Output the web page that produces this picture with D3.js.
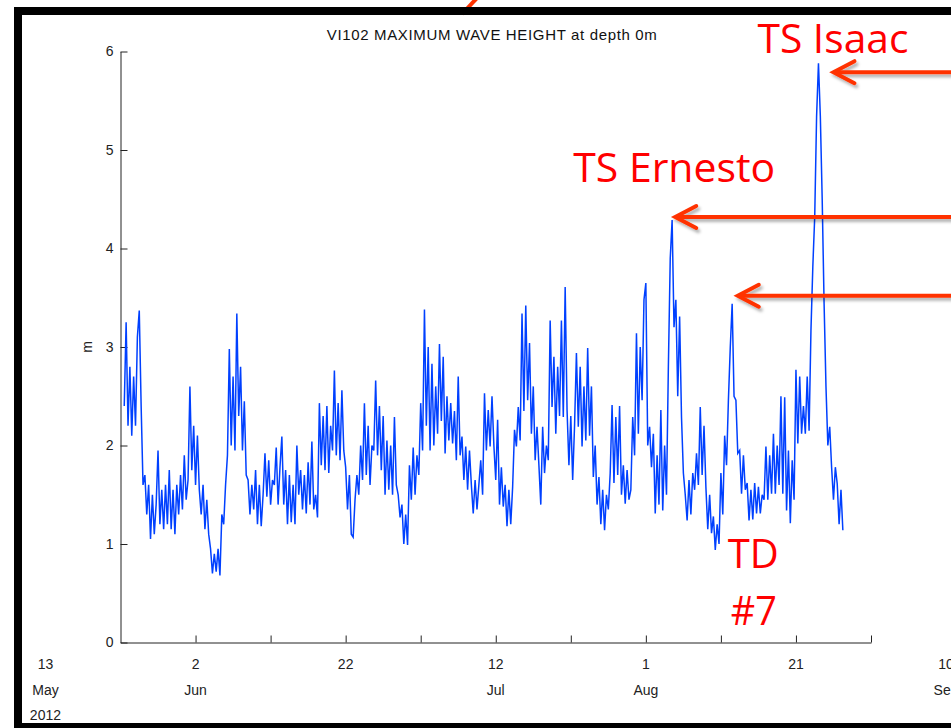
<!DOCTYPE html>
<html>
<head>
<meta charset="utf-8">
<script src="https://cdn.jsdelivr.net/npm/d3@7"></script>
<style>
  html, body { margin: 0; padding: 0; background: #fff; }
  svg { display: block; }
</style>
</head>
<body>
<div id="chart"></div>
<script>
// hourly buoy record, resampled every 6 h
const seriesStart = "2012-05-23 12:00";
const stepHours = 6;
const waveHeight = [
  2.4, 3.25,
  2.2, 2.8, 2.1, 2.7,   2.2, 3.1, 3.37, 2.4,   1.6, 1.7, 1.3, 1.6,   1.05, 1.5, 1.1, 1.4,
  1.95, 1.2, 1.55, 1.15,   1.6, 1.2, 1.75, 1.15,   1.55, 1.1, 1.6, 1.3,   1.7, 1.35, 1.9, 1.45,
  1.65, 2.6, 1.75, 2.2,   1.6, 2.1, 1.55, 1.3,   1.6, 1.15, 1.45, 1.1,   0.95, 0.7, 0.9, 0.72,
  0.95, 0.68, 1.3, 1.2,   1.6, 1.9, 2.98, 2.0,   2.7, 1.95, 3.34, 2.3,   2.8, 1.95, 2.45, 1.7,
  1.65, 1.3, 1.6, 1.35,   1.75, 1.2, 1.6, 1.18,   1.5, 1.92, 1.48, 1.85,   1.4, 1.65, 1.6, 1.98,
  1.4, 1.78, 2.09, 1.4,   1.75, 1.2, 1.7, 1.22,   1.6, 1.2, 2.0, 1.5,   1.75, 1.35, 1.7, 1.31,
  1.83, 1.4, 2.04, 1.35,   1.5, 1.27, 2.43, 1.8,   2.3, 1.75, 2.4, 1.72,   2.2, 1.95, 2.76, 1.9,
  2.43, 1.85, 2.56, 1.95,   1.78, 1.35, 1.7, 1.1,   1.07, 1.45, 1.7, 1.5,   2.0, 1.65, 2.43, 1.7,
  2.2, 1.6, 2.0, 1.95,   2.66, 1.9, 2.4, 1.75,   2.3, 1.5, 2.05, 1.55,   2.0, 1.5, 2.29, 1.6,
  1.5, 1.27, 1.4, 1.0,   1.3, 0.99, 1.8, 1.45,   1.98, 1.5, 1.9, 1.7,   2.43, 1.95, 3.38, 2.2,
  3.0, 1.95, 2.83, 2.0,   2.6, 2.12, 3.03, 2.25,   2.9, 1.92, 2.5, 2.05,   2.43, 2.02, 2.35, 1.85,
  2.7, 1.9, 2.09, 1.65,   1.99, 1.55, 1.95, 1.6,   1.31, 1.65, 1.35, 1.6,   1.85, 1.5, 2.53, 1.95,
  2.36, 1.99, 2.5, 2.0,   1.65, 2.26, 1.4, 1.78,   1.38, 1.6, 1.18, 1.55,   1.2, 1.58, 2.16, 1.99,
  2.39, 2.05, 3.34, 2.35,   3.42, 2.46, 3.04, 2.12,   2.6, 1.85, 2.19, 1.8,   1.4, 2.19, 1.72, 2.0,
  1.85, 3.27, 2.39, 2.9,   2.12, 2.8, 2.3, 3.27,   2.29, 3.61, 2.36, 1.8,   2.3, 1.65, 2.2, 2.94,
  2.19, 2.8, 1.99, 2.6,   2.05, 2.99, 2.1, 2.6,   1.68, 2.0, 1.4, 1.68,   1.2, 1.55, 1.14, 1.5,
  1.35, 1.72, 2.41, 1.62,   2.29, 1.7, 2.4, 1.5,   1.8, 1.41, 1.75, 1.45,   1.55, 2.29, 1.9, 3.14,
  2.12, 3.0, 2.46, 3.48,   3.65, 2.0, 2.19, 1.78,   2.12, 1.31, 1.9, 1.4,   2.36, 1.34, 2.0, 1.5,
  2.8, 3.9, 4.29, 3.2,   3.48, 2.5, 3.31, 2.29,   1.72, 1.5, 1.24, 1.65,   1.3, 1.72, 1.55, 1.92,
  1.6, 2.39, 1.7, 2.2,   1.58, 1.15, 1.5, 1.11,   1.28, 0.94, 1.2, 1.0,   1.72, 1.3, 2.1, 1.8,
  2.46, 3.0, 3.44, 2.5,   2.46, 1.92, 1.95, 1.51,   1.9, 1.55, 1.62, 1.24,   1.55, 1.25, 1.62, 1.31,
  1.58, 1.31, 1.5, 1.45,   1.99, 1.45, 1.9, 1.51,   2.12, 1.51, 2.0, 1.6,   2.5, 1.51, 2.49, 1.34,
  1.95, 1.21, 1.85, 1.45,   2.77, 2.02, 2.7, 2.12,   2.4, 2.12, 2.7, 2.15,   3.17, 3.82, 4.32, 5.34,
  5.88, 5.34, 4.49, 3.44,   2.6, 2.0, 2.19, 1.78,   1.45, 1.78, 1.61, 1.2,
  1.55, 1.14
];

const xDomain = ["2012-05-23", "2012-08-31"];
const xTickDates = [
  "2012-06-02", "2012-06-12", "2012-06-22", "2012-07-02", "2012-07-12",
  "2012-07-22", "2012-08-01", "2012-08-11", "2012-08-21", "2012-08-31"
];
const labelDates = [
  "2012-05-13", "2012-06-02", "2012-06-22", "2012-07-12",
  "2012-08-01", "2012-08-21", "2012-09-10"
];
const dayLabels = ["13", "2", "22", "12", "1", "21", "10"];
const monthLabels = ["May", "Jun", "", "Jul", "Aug", "", "Sep"];
const yearLabels = ["2012", "", "", "", "", "", ""];
const yTicks = [0, 1, 2, 3, 4, 5, 6];

// where each callout arrow points (time, metres)
const stormNames = ["TS Isaac", "TS Ernesto", "TD #7"];
const arrowTimes = ["2012-08-26 00:00", "2012-08-04 22:00", "2012-08-13 06:00"];
const arrowValues = [5.79, 4.32, 3.52];

const width = 951;
const height = 728;
const plot = { left: 120.5, right: 871, top: 51.5, bottom: 642.5 };

const parseDay = d3.timeParse("%Y-%m-%d");
const parseTime = d3.timeParse("%Y-%m-%d %H:%M");
const start = parseTime(seriesStart);

const data = waveHeight.map((v, i) => ({
  t: d3.timeHour.offset(start, i * stepHours),
  v: v,
}));

const svg = d3
  .select("#chart")
  .append("svg")
  .attr("width", width)
  .attr("height", height);

const defs = svg.append("defs");
defs
  .append("filter")
  .attr("id", "shadow")
  .attr("x", "-20%")
  .attr("y", "-100%")
  .attr("width", "140%")
  .attr("height", "300%")
  .append("feDropShadow")
  .attr("dx", 2)
  .attr("dy", 3)
  .attr("stdDeviation", 1.8)
  .attr("flood-color", "#000")
  .attr("flood-opacity", 0.3);

const x = d3
  .scaleTime()
  .domain(xDomain.map(parseDay))
  .range([plot.left, plot.right]);

const y = d3.scaleLinear().domain([0, 6]).range([plot.bottom, plot.top]);

// stray callout line coming in from above the frame
svg
  .append("line")
  .attr("x1", 477)
  .attr("y1", -2)
  .attr("x2", 462)
  .attr("y2", 14)
  .attr("stroke", "#ff3300")
  .attr("stroke-width", 4);

// title
svg
  .append("text")
  .attr("x", (plot.left + plot.right) / 2 - 4)
  .attr("y", 40)
  .attr("text-anchor", "middle")
  .attr("textLength", 330)
  .attr("font-family", "Liberation Sans, Arial, sans-serif")
  .attr("font-size", 15)
  .attr("fill", "#111")
  .text("VI102 MAXIMUM WAVE HEIGHT at depth 0m");

// y axis
const yAxis = d3
  .axisLeft(y)
  .tickValues(yTicks)
  .tickFormat(d3.format("d"))
  .tickSizeInner(-7)
  .tickSizeOuter(0)
  .tickPadding(7);

const gy = svg
  .append("g")
  .attr("transform", `translate(${plot.left},0)`)
  .call(yAxis);

// x axis (ticks only, labels are drawn below)
const xAxis = d3
  .axisBottom(x)
  .tickValues(xTickDates.map(parseDay))
  .tickFormat("")
  .tickSizeInner(-7)
  .tickSizeOuter(0);

const gx = svg
  .append("g")
  .attr("transform", `translate(0,${plot.bottom})`)
  .call(xAxis);

[gx, gy].forEach((g) => {
  g.select(".domain").attr("stroke", "#222");
  g.selectAll(".tick line").attr("stroke", "#222");
  g.selectAll("text")
    .attr("font-family", "Liberation Sans, Arial, sans-serif")
    .attr("font-size", 14)
    .attr("fill", "#222");
});

// MATLAB datetick style labels: day, month, year rows
const labels = svg.append("g")
  .attr("font-family", "Liberation Sans, Arial, sans-serif")
  .attr("font-size", 14)
  .attr("fill", "#222")
  .attr("text-anchor", "middle");

labelDates.forEach((d, i) => {
  const lx = x(parseDay(d));
  labels.append("text").attr("x", lx).attr("y", 669).text(dayLabels[i]);
  if (monthLabels[i])
    labels.append("text").attr("x", lx).attr("y", 695).text(monthLabels[i]);
  if (yearLabels[i])
    labels.append("text").attr("x", lx).attr("y", 720).text(yearLabels[i]);
});

svg
  .append("text")
  .attr("transform", `translate(92,${(plot.top + plot.bottom) / 2}) rotate(-90)`)
  .attr("text-anchor", "middle")
  .attr("font-family", "Liberation Sans, Arial, sans-serif")
  .attr("font-size", 14)
  .attr("fill", "#222")
  .text("m");

// wave height trace
const line = d3
  .line()
  .x((d) => x(d.t))
  .y((d) => y(d.v));

svg
  .append("path")
  .datum(data)
  .attr("fill", "none")
  .attr("stroke", "#0040ff")
  .attr("stroke-width", 1.5)
  .attr("stroke-linejoin", "miter")
  .attr("d", line);

// callout arrows
const arrows = svg.append("g").attr("filter", "url(#shadow)");
const tips = arrowTimes.map((t, i) => [x(parseTime(t)), y(arrowValues[i])]);

tips.forEach(([tx, ty]) => {
  arrows
    .append("line")
    .attr("x1", tx + 2)
    .attr("y1", ty)
    .attr("x2", width + 20)
    .attr("y2", ty)
    .attr("stroke", "#ff3300")
    .attr("stroke-width", 4);
  arrows
    .append("path")
    .attr("d", `M${tx + 21},${ty - 11}L${tx},${ty}L${tx + 21},${ty + 11}`)
    .attr("fill", "none")
    .attr("stroke", "#ff3300")
    .attr("stroke-width", 4)
    .attr("stroke-linecap", "round")
    .attr("stroke-linejoin", "miter");
});

// callout text, placed relative to each arrow tip
const calloutFont = "Open Sans, Lato, sans-serif";
const callout = (txt, xx, yy, len) =>
  svg
    .append("text")
    .attr("x", xx)
    .attr("y", yy)
    .attr("font-family", calloutFont)
    .attr("font-size", 40)
    .attr("fill", "#ff0000")
    .attr("textLength", len)
    .attr("lengthAdjust", "spacingAndGlyphs")
    .text(txt);

callout(stormNames[0], tips[0][0] - 76, tips[0][1] - 19, 151);
callout(stormNames[1], tips[1][0] - 102, tips[1][1] - 35, 202);
const tdParts = stormNames[2].split(" ");
callout(tdParts[0], tips[2][0] - 10, tips[2][1] + 272, 51);
callout(tdParts[1], tips[2][0] - 7, tips[2][1] + 329, 46);

// slide frame
svg
  .append("rect")
  .attr("x", 18)
  .attr("y", 11)
  .attr("width", 1000)
  .attr("height", 716)
  .attr("fill", "none")
  .attr("stroke", "#000")
  .attr("stroke-width", 8);
</script>
</body>
</html>
